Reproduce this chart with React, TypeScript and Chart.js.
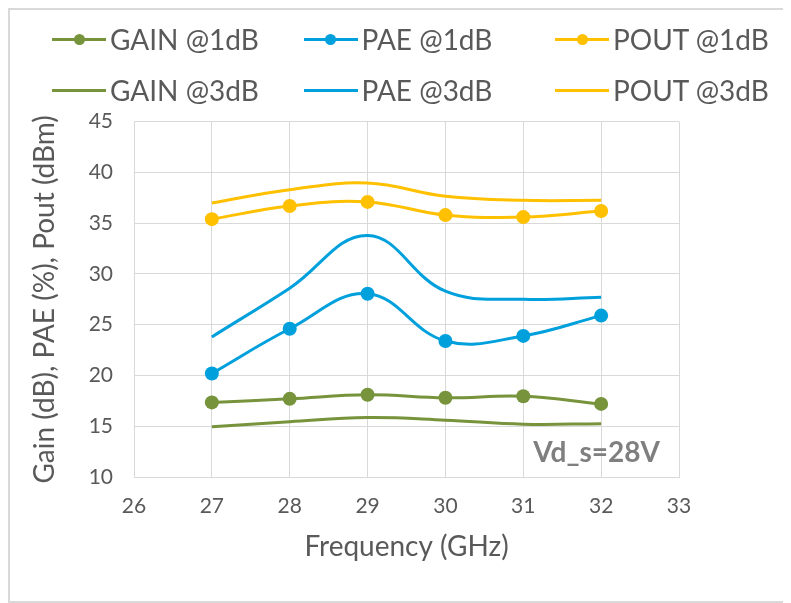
import React, { useEffect, useRef } from 'react';
import { Chart, registerables } from 'chart.js';

Chart.register(...registerables);

// ---- Data ----
const frequencies = [27, 28, 29, 30, 31, 32];
const gain1dB = [17.35, 17.7, 18.1, 17.8, 17.95, 17.2];
const pae1dB = [20.2, 24.6, 28.05, 23.4, 23.9, 25.9];
const pout1dB = [35.4, 36.7, 37.1, 35.8, 35.6, 36.2];
const gain3dB = [14.95, 15.45, 15.85, 15.6, 15.2, 15.25];
const pae3dB = [23.8, 28.6, 33.8, 28.3, 27.5, 27.7];
const pout3dB = [37.0, 38.3, 38.95, 37.65, 37.25, 37.25];

const seriesLabels = ['GAIN @1dB', 'PAE @1dB', 'POUT @1dB', 'GAIN @3dB', 'PAE @3dB', 'POUT @3dB'];
const seriesValues = [gain1dB, pae1dB, pout1dB, gain3dB, pae3dB, pout3dB];
const seriesMarkers = [true, true, true, false, false, false];

const xMin = 26;
const xMax = 33;
const xStep = 1;
const yMin = 10;
const yMax = 45;
const yStep = 5;

const xTitle = 'Frequency (GHz)';
const yTitle = 'Gain (dB), PAE (%), Pout (dBm)';
const noteText = 'Vd_s=28V';

// ---- Styles ----
const GREEN = '#77933C';
const BLUE = '#00A0DC';
const GOLD = '#FFC000';
const seriesColors = [GREEN, BLUE, GOLD, GREEN, BLUE, GOLD];
const TEXT = '#595959';
const GRID = '#d9d9d9';
const FONT = 'Lato';

const notePlugin = {
  id: 'noteText',
  afterDatasetsDraw(chart: any) {
    const { ctx, chartArea } = chart;
    ctx.save();
    ctx.font = `bold 28px ${FONT}`;
    ctx.fillStyle = '#7f7f7f';
    ctx.textAlign = 'right';
    ctx.textBaseline = 'alphabetic';
    ctx.fillText(noteText, chartArea.right - 19, chartArea.bottom - 15);
    ctx.restore();
  },
};

export default function App() {
  const canvasRef = useRef<HTMLCanvasElement | null>(null);

  useEffect(() => {
    document.documentElement.style.overflow = 'hidden';
    const canvas = canvasRef.current;
    if (!canvas) return;
    Chart.defaults.font.family = FONT;
    const chart = new Chart(canvas, {
      type: 'line',
      data: {
        labels: frequencies,
        datasets: seriesLabels.map((label, i) => ({
          label,
          data: seriesValues[i],
          borderColor: seriesColors[i],
          backgroundColor: seriesColors[i],
          borderWidth: 3,
          pointRadius: seriesMarkers[i] ? 7 : 0,
          pointHoverRadius: seriesMarkers[i] ? 7 : 0,
          pointBorderWidth: 0,
          pointBackgroundColor: seriesColors[i],
          tension: 0.4,
          fill: false,
        })),
      },
      options: {
        animation: false,
        responsive: false,
        devicePixelRatio: 1,
        layout: { padding: { left: 0, top: 111.7, right: 112, bottom: 37.2 } },
        plugins: { legend: { display: false }, tooltip: { enabled: false } },
        scales: {
          x: {
            type: 'linear',
            min: xMin,
            max: xMax,
            ticks: { stepSize: xStep, font: { size: 21 }, color: TEXT, padding: 17 },
            grid: { color: GRID, lineWidth: 1, drawTicks: false },
            border: { color: GRID },
            title: {
              display: true,
              text: xTitle,
              font: { size: 28 },
              color: TEXT,
              padding: { top: 0, bottom: 0 },
            },
            afterFit: (s: any) => {
              s.height = 86.8;
            },
          },
          y: {
            type: 'linear',
            min: yMin,
            max: yMax,
            ticks: { stepSize: yStep, font: { size: 21 }, color: TEXT, padding: 21 },
            grid: { color: GRID, lineWidth: 1, drawTicks: false },
            border: { color: GRID },
            title: {
              display: true,
              text: yTitle,
              font: { size: 28 },
              color: TEXT,
              padding: { top: 18, bottom: 0 },
            },
            afterFit: (s: any) => {
              s.width = 124;
            },
          },
        },
      },
      plugins: [notePlugin],
    });
    return () => chart.destroy();
  }, []);

  return (
    <div
      style={{
        position: 'relative',
        width: 783,
        height: 595,
        boxSizing: 'border-box',
        borderLeft: `2px solid ${GRID}`,
        borderTop: `2px solid ${GRID}`,
        borderBottom: `2px solid ${GRID}`,
        background: '#fff',
      }}
    >
      <canvas
        ref={canvasRef}
        width={781}
        height={591}
        style={{ position: 'absolute', left: 0, top: 0, width: 781, height: 591 }}
      />
      {seriesLabels.map((label, i) => {
        const col = i % 3;
        const row = Math.floor(i / 3);
        return (
          <div
            key={label}
            style={{
              position: 'absolute',
              left: 42 + col * 251.5,
              top: 12 + row * 51,
              height: 34,
              display: 'flex',
              alignItems: 'center',
              fontFamily: FONT,
              fontSize: 28,
              lineHeight: '34px',
              color: TEXT,
              whiteSpace: 'nowrap',
            }}
          >
            <span
              style={{
                position: 'relative',
                display: 'inline-block',
                width: 54,
                height: 3,
                background: seriesColors[i],
                marginRight: 4,
              }}
            >
              {seriesMarkers[i] && (
                <span
                  style={{
                    position: 'absolute',
                    left: 21.5,
                    top: -4,
                    width: 11,
                    height: 11,
                    borderRadius: '50%',
                    background: seriesColors[i],
                  }}
                />
              )}
            </span>
            {label}
          </div>
        );
      })}
    </div>
  );
}
